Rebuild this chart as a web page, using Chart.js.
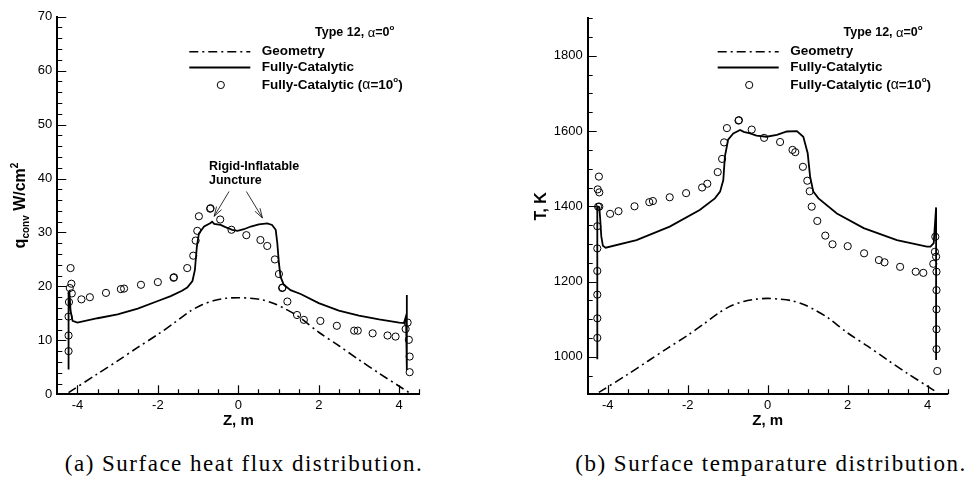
<!DOCTYPE html>
<html>
<head>
<meta charset="utf-8">
<script src="https://cdn.jsdelivr.net/npm/chart.js@4.4.1/dist/chart.umd.min.js"></script>
<style>
  body { margin: 0; background: #fff; width: 974px; height: 479px; position: relative; overflow: hidden; }
  canvas { position: absolute; top: 0; }
  .cap { position: absolute; top: 452px; font-family: "Liberation Serif", serif; font-size: 23px; line-height: 23px;
         letter-spacing: 1.5px; white-space: nowrap; transform: translateX(-50%); color: #000; }
</style>
</head>
<body>
<canvas id="cq" width="487" height="440" style="left:0"></canvas>
<canvas id="ct" width="487" height="440" style="left:487px"></canvas>
<div class="cap" style="left:244px">(a) Surface heat flux distribution.</div>
<div class="cap" style="left:771px">(b) Surface temparature distribution.</div>
<script>
// axis ticks
var xTicks = [-4, -2, 0, 2, 4];
var yTicksQ = [0, 10, 20, 30, 40, 50, 60, 70];
var yTicksT = [1000, 1200, 1400, 1600, 1800];

// geometry outline (same z for both plots)
var geomZ = [-4.22, -3.5, -3, -2.5, -2, -1.6, -1.2, -0.9, -0.6, -0.3, 0, 0.3, 0.6, 0.9, 1.2, 1.5, 2, 2.5, 3, 3.5, 4, 4.25];
var geomQ = [0.3, 3.8, 6.2, 8.7, 11.1, 13.2, 15.4, 16.6, 17.4, 17.8, 17.9, 17.8, 17.5, 16.8, 15.7, 14.4, 11.5, 9.0, 6.4, 3.9, 1.5, 0.3];
var geomT = [905, 953, 988, 1023, 1057, 1087, 1118, 1136, 1147, 1153, 1155, 1153, 1149, 1139, 1123, 1104, 1063, 1028, 991, 955, 921, 904];

// fully-catalytic, heat flux (W/cm2)
var fcZq = [-4.22, -4.22, -4.2, -4.17, -4.12, -4.0, -3.5, -3.0, -2.5, -2.0, -1.68, -1.4, -1.27, -1.14, -1.08, -1.03, -0.98, -0.85, -0.7, -0.65, -0.6, -0.44, -0.32, -0.15, -0.02, 0.14, 0.31, 0.51, 0.72, 0.84, 0.93, 0.97, 1.01, 1.05, 1.13, 1.3, 1.55, 2.0, 2.5, 3.0, 3.5, 4.0, 4.12, 4.17, 4.19, 4.19];
var fcQ = [4.6, 18.8, 19.0, 15.5, 13.6, 13.3, 14.1, 14.8, 15.9, 17.3, 18.2, 19.2, 19.8, 21.0, 23.0, 27.4, 29.8, 31.1, 31.7, 32.0, 31.6, 31.4, 31.0, 30.5, 30.3, 30.6, 31.1, 31.5, 31.7, 31.4, 30.5, 28.0, 24.3, 21.8, 20.3, 19.3, 18.6, 16.9, 15.5, 14.6, 13.9, 13.3, 13.2, 14.5, 18.4, 4.5];

// fully-catalytic alpha=10, heat flux
var a10Zq = [-4.22, -4.22, -4.22, -4.21, -4.19, -4.14, -4.15, -4.17, -3.9, -3.69, -3.29, -2.92, -2.84, -2.42, -2.0, -1.61, -1.6, -1.27, -1.12, -1.06, -1.02, -0.98, -0.7, -0.69, -0.45, -0.17, 0.2, 0.55, 0.72, 0.91, 1.01, 1.09, 1.1, 1.22, 1.46, 1.63, 2.04, 2.45, 2.88, 2.97, 3.34, 3.71, 3.91, 4.16, 4.21, 4.24, 4.26, 4.26];
var a10Q = [8.0, 10.9, 14.4, 17.1, 19.7, 18.7, 20.5, 23.4, 17.6, 18.0, 18.8, 19.5, 19.6, 20.3, 20.8, 21.6, 21.7, 23.4, 25.7, 28.5, 30.3, 33.0, 34.4, 34.5, 32.4, 30.5, 29.5, 28.6, 27.5, 25.0, 22.3, 19.7, 19.8, 17.2, 14.7, 13.8, 13.6, 12.7, 11.8, 11.8, 11.3, 10.9, 10.7, 12.1, 13.3, 10.1, 7.0, 4.1];

// fully-catalytic, temperature (K)
var fcZt = [-4.26, -4.26, -4.21, -4.19, -4.16, -4.12, -4.05, -3.28, -2.45, -1.7, -1.32, -1.19, -1.11, -1.07, -0.99, -0.86, -0.69, -0.6, -0.44, -0.28, -0.03, 0.23, 0.48, 0.73, 0.89, 1.0, 1.06, 1.14, 1.27, 1.73, 2.4, 3.23, 3.98, 4.07, 4.15, 4.21, 4.21];
var fcT = [993, 1400, 1398, 1370, 1320, 1295, 1290, 1310, 1346, 1390, 1421, 1439, 1470, 1532, 1577, 1594, 1603, 1598, 1594, 1588, 1585, 1590, 1599, 1600, 1585, 1541, 1479, 1439, 1421, 1381, 1342, 1310, 1293, 1293, 1302, 1397, 991];

// fully-catalytic alpha=10, temperature
var a10Zt = [-4.26, -4.26, -4.26, -4.26, -4.26, -4.26, -4.24, -4.21, -4.21, -4.25, -4.22, -3.94, -3.73, -3.33, -2.96, -2.87, -2.45, -2.04, -1.64, -1.51, -1.25, -1.14, -1.09, -1.02, -0.73, -0.72, -0.4, -0.09, 0.31, 0.62, 0.69, 0.88, 0.99, 1.05, 1.1, 1.24, 1.44, 1.62, 2.0, 2.41, 2.78, 2.92, 3.31, 3.7, 3.89, 4.14, 4.19, 4.18, 4.21, 4.22, 4.22, 4.22, 4.22, 4.22, 4.24];
var a10T = [1050, 1102, 1165, 1228, 1288, 1347, 1399, 1399, 1437, 1445, 1479, 1380, 1387, 1400, 1411, 1414, 1424, 1435, 1450, 1460, 1491, 1526, 1570, 1608, 1628, 1629, 1604, 1582, 1571, 1550, 1544, 1505, 1468, 1440, 1399, 1361, 1322, 1299, 1294, 1275, 1257, 1251, 1239, 1226, 1223, 1247, 1319, 1279, 1266, 1226, 1177, 1126, 1073, 1020, 962];

var SANS = '"Liberation Sans", Arial, Helvetica, sans-serif';

function pts(xs, ys) {
  return xs.map(function (v, i) { return { x: v, y: ys[i] }; });
}

function makeSets(gy, fz, fy, cz, cy) {
  return [
    { label: 'Geometry', data: pts(geomZ, gy), showLine: true, borderColor: '#000', borderWidth: 1.6,
      borderDash: [9, 4, 2, 4], pointRadius: 0, tension: 0.3 },
    { label: 'Fully-Catalytic', data: pts(fz, fy), showLine: true, borderColor: '#000', borderWidth: 1.8,
      pointRadius: 0, tension: 0 },
    { label: 'Fully-Catalytic (α=10°)', data: pts(cz, cy), showLine: false, borderColor: '#000',
      backgroundColor: 'rgba(0,0,0,0)', borderWidth: 1, pointRadius: 3.6, pointHoverRadius: 3.6 }
  ];
}

// draw a run of text pieces with different fonts / offsets
function rich(ctx, parts, x, y, align) {
  var w = 0;
  parts.forEach(function (p) { ctx.font = p.f; w += ctx.measureText(p.t).width; });
  var cx = align === 'right' ? x - w : align === 'center' ? x - w / 2 : x;
  ctx.textAlign = 'left';
  parts.forEach(function (p) {
    ctx.font = p.f;
    ctx.fillText(p.t, cx, y + (p.dy || 0));
    cx += ctx.measureText(p.t).width;
  });
}

// inward tick marks on bottom and left axes
var inTicks = {
  id: 'inTicks',
  afterDatasetsDraw: function (chart, args, o) {
    var ctx = chart.ctx, a = chart.chartArea, x = chart.scales.x, y = chart.scales.y;
    ctx.save();
    ctx.strokeStyle = '#000';
    ctx.lineWidth = 1.2;
    ctx.beginPath();
    var n = Math.round((x.max - x.min) / o.xMinor);
    for (var i = 0; i <= n; i++) {
      var v = x.min + i * o.xMinor;
      var px = Math.round(x.getPixelForValue(v)) + 0.5;
      if (px < a.left + 2) continue;
      var big = Math.abs(v / o.xMajor - Math.round(v / o.xMajor)) < 1e-6;
      ctx.moveTo(px, a.bottom);
      ctx.lineTo(px, a.bottom - (big ? 9 : 5));
    }
    n = Math.round((y.max - y.min) / o.yMinor);
    for (var j = 0; j <= n; j++) {
      var w = y.min + j * o.yMinor;
      var py = Math.round(y.getPixelForValue(w)) + 0.5;
      if (py > a.bottom - 2) continue;
      var bigY = Math.abs(w / o.yMajor - Math.round(w / o.yMajor)) < 1e-6;
      ctx.moveTo(a.left, py);
      ctx.lineTo(a.left + (bigY ? 9 : 5), py);
    }
    ctx.stroke();
    ctx.restore();
  }
};

// legend box in upper right plus y title
var deco = {
  id: 'deco',
  afterDraw: function (chart, args, o) {
    var ctx = chart.ctx, a = chart.chartArea, ds = chart.data.datasets;
    ctx.save();
    ctx.fillStyle = '#000';
    ctx.textBaseline = 'middle';
    var b = 'bold 12.5px ' + SANS, bl = 'bold 13.5px ' + SANS;
    rich(ctx, [{ t: 'Type 12, ', f: b }, { t: 'α', f: '13px ' + SANS }, { t: '=0', f: b },
               { t: 'o', f: 'bold 8px ' + SANS, dy: -5 }], a.right - 25, 33, 'right');
    var x0 = a.right - 230, x1 = a.right - 169, tx = a.right - 157.5;
    ctx.strokeStyle = '#000';
    ctx.lineWidth = ds[0].borderWidth;
    ctx.setLineDash(ds[0].borderDash);
    ctx.beginPath(); ctx.moveTo(x0, 51.7); ctx.lineTo(x1, 51.7); ctx.stroke();
    ctx.setLineDash([]);
    ctx.lineWidth = ds[1].borderWidth;
    ctx.beginPath(); ctx.moveTo(x0, 67.5); ctx.lineTo(x1, 67.5); ctx.stroke();
    ctx.lineWidth = ds[2].borderWidth;
    ctx.beginPath(); ctx.arc(a.right - 198.5, 85, ds[2].pointRadius, 0, Math.PI * 2); ctx.stroke();
    rich(ctx, [{ t: ds[0].label, f: bl }], tx, 51.7, 'left');
    rich(ctx, [{ t: ds[1].label, f: bl }], tx, 67.5, 'left');
    rich(ctx, [{ t: 'Fully-Catalytic (', f: bl }, { t: 'α', f: '14px ' + SANS }, { t: '=10', f: bl },
               { t: 'o', f: 'bold 8px ' + SANS, dy: -5 }, { t: ')', f: bl }], tx, 85, 'left');

    // y axis title
    ctx.textBaseline = 'alphabetic';
    ctx.translate(o.titleX, (a.top + a.bottom) / 2);
    ctx.rotate(-Math.PI / 2);
    rich(ctx, o.title, 0, 0, 'center');
    ctx.restore();

    // annotation with arrows
    if (o.note) {
      var x = chart.scales.x, y = chart.scales.y;
      ctx.save();
      ctx.fillStyle = '#000';
      ctx.strokeStyle = '#000';
      ctx.lineWidth = 0.8;
      ctx.textBaseline = 'middle';
      ctx.font = 'bold 12.5px ' + SANS;
      ctx.textAlign = 'left';
      ctx.fillText('Rigid-Inflatable', x.getPixelForValue(o.note.z), y.getPixelForValue(o.note.q1));
      ctx.fillText('Juncture', x.getPixelForValue(o.note.z), y.getPixelForValue(o.note.q2));
      o.note.arrows.forEach(function (r) {
        var x0 = x.getPixelForValue(r[0]), y0 = y.getPixelForValue(r[1]);
        var x1 = x.getPixelForValue(r[2]), y1 = y.getPixelForValue(r[3]);
        var ang = Math.atan2(y1 - y0, x1 - x0);
        ctx.beginPath();
        ctx.moveTo(x0, y0); ctx.lineTo(x1, y1);
        ctx.moveTo(x1 - 10 * Math.cos(ang - 0.3), y1 - 10 * Math.sin(ang - 0.3));
        ctx.lineTo(x1, y1);
        ctx.lineTo(x1 - 10 * Math.cos(ang + 0.3), y1 - 10 * Math.sin(ang + 0.3));
        ctx.stroke();
      });
      ctx.restore();
    }
  }
};

function plain(v) { return String(v); }

function makeChart(id, sets, ymin, ymax, yTicks, yw, pad, tickOpts, decoOpts) {
  return new Chart(document.getElementById(id), {
    type: 'scatter',
    data: { datasets: sets },
    plugins: [inTicks, deco],
    options: {
      responsive: false,
      animation: false,
      events: [],
      layout: { padding: pad },
      plugins: { legend: { display: false }, tooltip: { enabled: false }, inTicks: tickOpts, deco: decoOpts },
      scales: {
        x: {
          type: 'linear', min: -4.5, max: 4.5,
          afterBuildTicks: function (s) { s.ticks = xTicks.map(function (v) { return { value: v }; }); },
          afterFit: function (s) { s.height = 36; },
          grid: { display: false, drawTicks: false, tickLength: 0 },
          border: { display: true, color: '#000', width: 2 },
          ticks: { color: '#000', font: { family: SANS, size: 13 }, padding: 3, maxRotation: 0, autoSkip: false,
                   callback: plain },
          title: { display: true, text: 'Z, m', color: '#000', font: { family: SANS, size: 15, weight: 'bold' },
                   padding: { top: 0, bottom: 0 } }
        },
        y: {
          type: 'linear', min: ymin, max: ymax,
          afterBuildTicks: function (s) { s.ticks = yTicks.map(function (v) { return { value: v }; }); },
          afterFit: function (s) { s.width = yw; },
          grid: { display: false, drawTicks: false, tickLength: 0 },
          border: { display: true, color: '#000', width: 2 },
          ticks: { color: '#000', font: { family: SANS, size: 13 }, padding: 5, callback: plain }
        }
      }
    }
  });
}

var fb = 'bold 16px ' + SANS, fs = 'bold 10px ' + SANS;

makeChart('cq', makeSets(geomQ, fcZq, fcQ, a10Zq, a10Q), 0, 70, yTicksQ, 57.3,
  { left: 0, top: 16.7, right: 67.7, bottom: 9.7 },
  { xMinor: 0.5, xMajor: 2, yMinor: 2, yMajor: 10 },
  { titleX: 25,
    title: [{ t: 'q', f: fb }, { t: 'conv', f: fs, dy: 4 }, { t: ' W/cm', f: fb }, { t: '2', f: fs, dy: -7 }],
    note: { z: -0.73, q1: 42.2, q2: 39.7, arrows: [[-0.23, 37.6, -0.6, 33.0], [0.2, 37.6, 0.6, 32.7]] } });

makeChart('ct', makeSets(geomT, fcZt, fcT, a10Zt, a10T), 900, 1900, yTicksT, 100.7,
  { left: 0, top: 18.3, right: 26.3, bottom: 9.7 },
  { xMinor: 0.5, xMajor: 2, yMinor: 50, yMajor: 200 },
  { titleX: 58.5, title: [{ t: 'T, K', f: fb }] });
</script>
</body>
</html>
